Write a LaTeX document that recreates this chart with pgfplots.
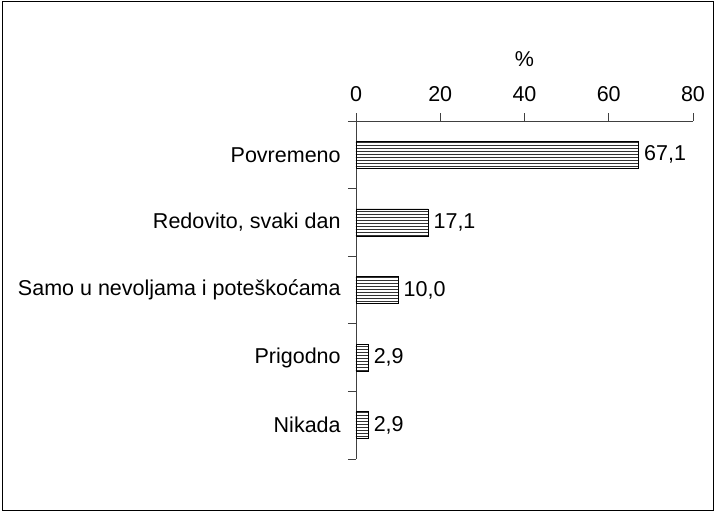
\documentclass[border=0pt]{standalone}
\usepackage{fontspec}
\setmainfont{Liberation Sans}
\usepackage{pgfplots}
\pgfplotsset{compat=1.18}
\usetikzlibrary{patterns}
\newcommand{\fs}{\fontsize{21.5pt}{25pt}\selectfont}
\begin{document}
\fs
\begin{tikzpicture}
\useasboundingbox (0,0) rectangle (715pt,512pt);
\draw[line width=1pt] (2pt,2pt) rectangle (713pt,510pt);
\begin{axis}[
  at={(356pt,53pt)}, anchor=south west,
  scale only axis, width=337pt, height=338pt,
  xmin=0, xmax=80, ymin=0.5, ymax=5.5, y dir=reverse,
  axis x line*=top, axis y line*=left,
  axis line style={line width=0.8pt, black!75},
  xtick={0,20,40,60,80},
  ytick={0.5,1.5,2.5,3.5,4.5,5.5}, yticklabels={},
  extra y ticks={1,2,3,4,5},
  extra y tick labels={Povremeno,{Redovito, svaki dan},{Samo u nevoljama i poteškoćama},Prigodno,Nikada},
  extra y tick style={major tick length=0pt, yticklabel style={xshift=-8pt}},
  tick align=outside, major tick length=8pt,
  tick style={line width=0.8pt, black!75},
  xticklabel style={yshift=4pt},
  /pgf/number format/assume math mode=true,
  xlabel={\%}, xlabel style={yshift=5pt},
  xbar, bar width=27pt,
  nodes near coords,
  nodes near coords style={/pgf/number format/.cd, use comma, fixed, fixed zerofill, precision=1, /tikz/.cd, xshift=-2pt},
  every node near coord/.append style={font=\fs},
  ticklabel style={font=\fs},
  label style={font=\fs},
]
\addplot[draw=black, line width=0.8pt, pattern=horizontal lines, pattern color=black!80] coordinates {
(67.1,1) (17.1,2) (10.0,3) (2.9,4) (2.9,5)};
\end{axis}
\end{tikzpicture}
\end{document}
